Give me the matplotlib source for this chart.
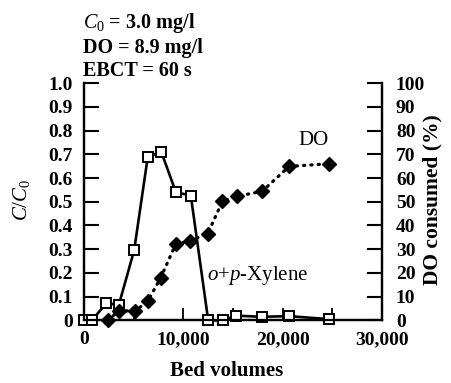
import matplotlib as mpl
mpl.use('Agg')
import matplotlib.pyplot as plt
from matplotlib import ticker

plt.rcParams['font.family'] = 'Liberation Serif'
plt.rcParams['mathtext.fontset'] = 'custom'
plt.rcParams['mathtext.rm'] = 'Liberation Serif'
plt.rcParams['mathtext.it'] = 'Liberation Serif:italic'
plt.rcParams['mathtext.bf'] = 'Liberation Serif:bold'

# o+p-xylene breakthrough (C/C0)
xyl_bv = [0, 780, 2250, 3510, 5050, 6420, 7780, 9250, 10750, 12500, 14000, 15300, 17900, 20600, 24700]
xyl_c = [0, 0, 0.072, 0.066, 0.296, 0.69, 0.71, 0.54, 0.526, 0, 0, 0.02, 0.015, 0.018, 0.005]

# DO consumed (%)
do_bv = [2390, 3510, 5150, 6410, 7720, 9220, 10690, 12450, 13930, 15400, 17930, 20650, 24620]
do_pct = [0, 4, 4, 8, 18, 32, 33.5, 36.5, 50.2, 52.3, 54.4, 64.9, 66]

left_ticks = [0, 0.1, 0.2, 0.3, 0.4, 0.5, 0.6, 0.7, 0.8, 0.9, 1.0]
left_labels = ['0', '0.1', '0.2', '0.3', '0.4', '0.5', '0.6', '0.7', '0.8', '0.9', '1.0']
right_ticks = [0, 10, 20, 30, 40, 50, 60, 70, 80, 90, 100]
x_ticks = [0, 10000, 20000, 30000]
x_labels = ['0', '10,000', '20,000', '30,000']

fs = 14
fig = plt.figure(figsize=(4.51, 3.83), dpi=100)
ax1 = fig.add_axes([0.1863, 0.1635, 0.6608, 0.6195])
ax2 = ax1.twinx()

ax1.plot(xyl_bv, xyl_c, color='black', lw=1.9, marker='s', ms=6.5, mfc='white',
         mec='black', mew=1.4, clip_on=False, zorder=3)
ax2.plot(do_bv, do_pct, color='black', lw=2.3, ls=(0, (0.4, 1.9)), dash_capstyle='round',
         marker='D', ms=7, mfc='black', mec='black', clip_on=False, zorder=3)

ax1.set_xlim(0, 30000)
ax1.set_ylim(0, 1.0)
ax2.set_ylim(0, 100)

for ax in (ax1, ax2):
    ax.spines['top'].set_visible(False)
    for s in ('left', 'right', 'bottom'):
        ax.spines[s].set_linewidth(1.6)

ax1.set_yticks(left_ticks)
ax1.set_yticklabels(left_labels, fontsize=fs, fontweight='bold')
ax2.set_yticks(right_ticks)
ax2.set_yticklabels([str(t) for t in right_ticks], fontsize=fs, fontweight='bold')
ax1.set_xticks(x_ticks)
ax1.set_xticklabels(x_labels, fontsize=fs, fontweight='bold')
ax1.xaxis.set_minor_locator(ticker.FixedLocator([5000, 15000, 25000]))

ax1.tick_params(axis='y', direction='in', length=11, width=1.5, pad=8)
ax2.tick_params(axis='y', direction='in', length=11, width=1.5, pad=10)
ax1.tick_params(axis='x', which='both', direction='in', length=9, width=1.3, pad=8)

fig.text(0.502, 0.031, 'Bed volumes', fontsize=15, fontweight='bold', ha='center', va='center')
fig.text(22 / 451, 0.478, r'$C/C_0$', fontsize=15, rotation=90, ha='center', va='center')
fig.text(432 / 451, 0.478, 'DO consumed (%)', fontsize=15.5, fontweight='bold',
         rotation=90, ha='center', va='center')

fig.text(0.184, 0.927, r'$C_0$' + ' = 3.0 mg/l', fontsize=14.5, fontweight='bold', va='baseline')
fig.text(0.184, 0.862, 'DO = 8.9 mg/l', fontsize=14.5, fontweight='bold', va='baseline')
fig.text(0.184, 0.8016, 'EBCT = 60 s', fontsize=14.5, fontweight='bold', va='baseline')

ax2.text(23150, 76, 'DO', fontsize=15, ha='center', va='center')
ax1.text(17470, 0.17, r'$o$+$p$-Xylene', fontsize=15, ha='center', va='baseline')

fig.savefig('out.png', dpi=100)
